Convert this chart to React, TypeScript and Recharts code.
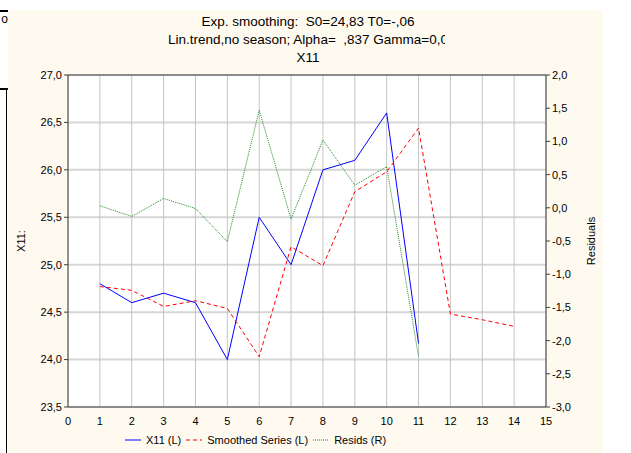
import {
  CartesianGrid,
  ComposedChart,
  Line,
  ReferenceLine,
  XAxis,
  YAxis,
} from "recharts";

const cases = [1, 2, 3, 4, 5, 6, 7, 8, 9, 10, 11, 12, 13, 14];
const x11 = [24.8, 24.6, 24.7, 24.6, 24.0, 25.5, 25.0, 26.0, 26.1, 26.6, 24.17, null, null, null];
const smoothed = [24.77, 24.73, 24.56, 24.62, 24.54, 24.03, 25.19, 24.99, 25.77, 25.98, 26.44, 24.48, 24.42, 24.35];
const resids = [0.03, -0.13, 0.14, -0.01, -0.51, 1.47, -0.17, 1.02, 0.34, 0.62, -2.24, null, null, null];

const xTicks = [0, 1, 2, 3, 4, 5, 6, 7, 8, 9, 10, 11, 12, 13, 14, 15];
const leftTicks = [23.5, 24, 24.5, 25, 25.5, 26, 26.5, 27];
const rightTicks = [-3, -2.5, -2, -1.5, -1, -0.5, 0, 0.5, 1, 1.5, 2];

const titleLines = [
  "Exp. smoothing:  S0=24,83 T0=-,06",
  "Lin.trend,no season; Alpha=  ,837 Gamma=0,0",
  "X11",
];

const data = cases.map((c, i) => ({
  case: c,
  x11: x11[i],
  smoothed: smoothed[i],
  resids: resids[i],
}));

const comma = (v: number) => v.toFixed(1).replace(".", ",");
const font = "'Liberation Sans', Arial, sans-serif";
const tickStyle = { fontSize: 11, fill: "#000", fontFamily: font };

const legendItems = [
  { label: "X11 (L)", color: "#0000ff", dash: undefined },
  { label: "Smoothed Series (L)", color: "#ff0000", dash: "4 3" },
  { label: "Resids (R)", color: "#228b22", dash: "1 1" },
];

export default function App() {
  return (
    <div
      style={{
        position: "absolute",
        left: 0,
        top: 0,
        width: 631,
        height: 453,
        background: "#fff",
        fontFamily: font,
        overflow: "hidden",
      }}
    >
      {/* panel left of the graph */}
      <div
        style={{
          position: "absolute",
          left: -10,
          top: 10,
          width: 16,
          height: 76,
          border: "2px solid #000",
          background: "#fff",
          fontSize: 12,
          lineHeight: "14px",
          textAlign: "right",
        }}
      >
        o
      </div>
      <div
        style={{
          position: "absolute",
          left: 6,
          top: 88,
          width: 1,
          height: 365,
          background: "#000",
        }}
      />
      <div
        style={{
          position: "absolute",
          left: 8,
          top: 10,
          width: 595,
          height: 443,
          background: "#fffaf0",
        }}
      >
        {titleLines.map((t, i) => (
          <div
            key={i}
            style={{
              position: "absolute",
              left: 0,
              top: 3 + i * 18,
              width: i === 1 ? 437 : 600,
              overflow: "hidden",
              fontSize: 13.5,
              lineHeight: "18px",
            }}
          >
            <div style={{ width: 600, textAlign: "center", whiteSpace: "pre" }}>{t}</div>
          </div>
        ))}
        <ComposedChart
          width={595}
          height={443}
          data={data}
          margin={{ top: 65, right: 17, bottom: 26, left: 20 }}
        >
          <CartesianGrid
            yAxisId="left"
            vertical={false}
            stroke="#d6d6d6"
            strokeWidth={2}
            fill="#ffffff"
          />
          <CartesianGrid
            yAxisId="left"
            horizontal={false}
            stroke="#c4c4c4"
            strokeWidth={1}
          />
          <XAxis
            dataKey="case"
            type="number"
            domain={[0, 15]}
            ticks={xTicks}
            interval={0}
            tickLine={false}
            height={20}
            stroke="#404040"
            tick={tickStyle}
            tickMargin={4}
          />
          <YAxis
            yAxisId="left"
            domain={[23.5, 27]}
            ticks={leftTicks}
            interval={0}
            tickFormatter={comma}
            width={40}
            stroke="#404040"
            tickSize={4}
            tickMargin={2}
            tick={tickStyle}
            label={{
              value: "X11:",
              angle: -90,
              position: "insideLeft",
              dx: -12,
              style: { textAnchor: "middle", fontSize: 11, fill: "#000", fontFamily: font },
            }}
          />
          <YAxis
            yAxisId="right"
            orientation="right"
            domain={[-3, 2]}
            ticks={rightTicks}
            interval={0}
            tickFormatter={comma}
            width={40}
            stroke="#404040"
            tickSize={4}
            tickMargin={2}
            tick={tickStyle}
            label={{
              value: "Residuals",
              angle: -90,
              position: "insideRight",
              dx: 10,
              style: { textAnchor: "middle", fontSize: 11, fill: "#000", fontFamily: font },
            }}
          />
          <ReferenceLine yAxisId="left" y={27} stroke="#404040" />
          <Line
            yAxisId="left"
            dataKey="x11"
            stroke="#0000ff"
            strokeWidth={1}
            dot={false}
            isAnimationActive={false}
          />
          <Line
            yAxisId="left"
            dataKey="smoothed"
            stroke="#ff0000"
            strokeWidth={1}
            strokeDasharray="4 3"
            dot={false}
            isAnimationActive={false}
          />
          <Line
            yAxisId="right"
            dataKey="resids"
            stroke="#228b22"
            strokeWidth={1}
            strokeDasharray="1 1"
            dot={false}
            isAnimationActive={false}
          />
        </ComposedChart>
        <div
          style={{
            position: "absolute",
            left: 117,
            top: 424,
            display: "flex",
            alignItems: "center",
            fontSize: 11,
            whiteSpace: "nowrap",
          }}
        >
          {legendItems.map((item) => (
            <div key={item.label} style={{ display: "flex", alignItems: "center", marginRight: 5 }}>
              <svg width={16} height={10} style={{ marginRight: 5 }}>
                <line
                  x1={0}
                  y1={5}
                  x2={16}
                  y2={5}
                  stroke={item.color}
                  strokeWidth={1}
                  strokeDasharray={item.dash}
                />
              </svg>
              <span>{item.label}</span>
            </div>
          ))}
        </div>
      </div>
    </div>
  );
}
